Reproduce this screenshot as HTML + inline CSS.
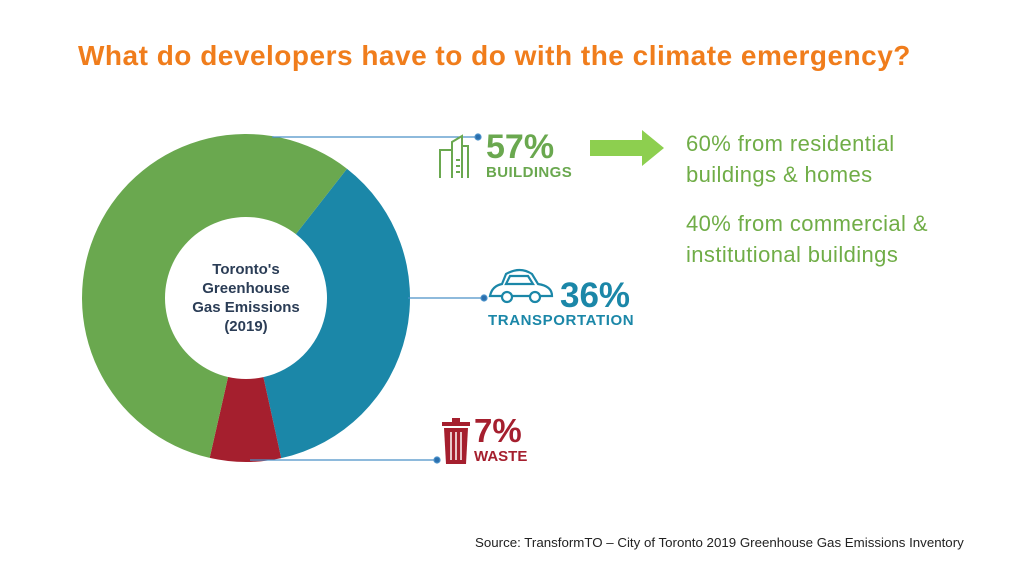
<!DOCTYPE html>
<html><head><meta charset="utf-8"><style>
body{margin:0;width:1024px;height:576px;background:#fff;overflow:hidden;font-family:"Liberation Sans",sans-serif;position:relative}
.t{position:absolute;white-space:nowrap}
</style></head><body>
<div class="t" style="left:78px;top:40px;font-size:28px;font-weight:bold;color:#f07d1c;letter-spacing:0.5px">What do developers have to do with the climate emergency?</div>
<svg width="1024" height="576" style="position:absolute;left:0;top:0">
<g id="donut"></g>
<g stroke="#4a90c8" stroke-width="1.2" fill="#2a6fae">
<line x1="272" y1="137" x2="478" y2="137"/><circle cx="478" cy="137" r="3"/>
<line x1="408" y1="298" x2="484" y2="298"/><circle cx="484" cy="298" r="3"/>
<line x1="250" y1="460" x2="437" y2="460"/><circle cx="437" cy="460" r="3"/>
</g>
<g fill="none" stroke="#6aa84f" stroke-width="2"><path d="M440 178 V150 H452 V142 L462 136 V178 M452 150 V178 M462 146 H468 V178 M456 160 H460 M456 166 H460 M456 172 H460"/></g>
<g fill="none" stroke="#1b87a8" stroke-width="2.2"><path d="M490 296 Q492 286 502 284 L506 274 Q520 266 532 274 L538 284 Q552 286 552 296 Z M506 284 L510 276 H528 L533 284 Z"/><circle cx="507" cy="297" r="5" fill="#fff"/><circle cx="535" cy="297" r="5" fill="#fff"/></g>
<g fill="#a51f2e"><rect x="442" y="422" width="28" height="4"/><rect x="452" y="418" width="8" height="4"/><path d="M444 428 H468 L466 464 H446 Z"/><g stroke="#fff" stroke-width="1.5"><line x1="451" y1="432" x2="451" y2="460"/><line x1="456" y1="432" x2="456" y2="460"/><line x1="461" y1="432" x2="461" y2="460"/></g></g>
<polygon points="590,140 642,140 642,130 664,148 642,166 642,156 590,156" fill="#8dcf4f"/>
</svg>
<div class="t" style="left:166px;top:260px;width:160px;text-align:center;font-size:15px;font-weight:bold;color:#2b3d56;line-height:19px">Toronto's<br>Greenhouse<br>Gas Emissions<br>(2019)</div>
<div class="t" style="left:486px;top:128px;font-size:34px;font-weight:bold;color:#6aa84f">57%</div>
<div class="t" style="left:486px;top:164px;font-size:15px;font-weight:bold;color:#6aa84f;letter-spacing:0.4px">BUILDINGS</div>
<div class="t" style="left:560px;top:276px;font-size:35px;font-weight:bold;color:#1b87a8">36%</div>
<div class="t" style="left:488px;top:312px;font-size:15px;font-weight:bold;color:#1b87a8;letter-spacing:0.6px">TRANSPORTATION</div>
<div class="t" style="left:474px;top:412px;font-size:33px;font-weight:bold;color:#a51f2e">7%</div>
<div class="t" style="left:474px;top:448px;font-size:15px;font-weight:bold;color:#a51f2e">WASTE</div>
<div class="t" style="left:686px;top:128px;font-size:22px;color:#70ad47;line-height:31px;letter-spacing:0.4px">60% from residential<br>buildings &amp; homes</div>
<div class="t" style="left:686px;top:208px;font-size:22px;color:#70ad47;line-height:31px;letter-spacing:0.4px">40% from commercial &amp;<br>institutional buildings</div>
<div class="t" style="left:475px;top:535px;font-size:13.3px;color:#222">Source: TransformTO – City of Toronto 2019 Greenhouse Gas Emissions Inventory</div>
<script>
const categories=["Transportation","Waste","Buildings"];
const values=[36,7,57];
const colors=["#1b87a8","#a51f2e","#6aa84f"];
const cx=246,cy=298,R=164,r=81,start=38;
const g=document.getElementById('donut');
const total=values.reduce((a,b)=>a+b,0);
let a0=start;
function pt(rad,deg){const t=deg*Math.PI/180;return [cx+rad*Math.sin(t),cy-rad*Math.cos(t)];}
values.forEach((v,i)=>{
 const a1=a0+v/total*360,large=(a1-a0)>180?1:0;
 const p1=pt(R,a0),p2=pt(R,a1),p3=pt(r,a1),p4=pt(r,a0);
 const p=document.createElementNS('http://www.w3.org/2000/svg','path');
 p.setAttribute('d',`M${p1} A${R} ${R} 0 ${large} 1 ${p2} L${p3} A${r} ${r} 0 ${large} 0 ${p4}Z`);
 p.setAttribute('fill',colors[i]);
 
 
 g.appendChild(p);a0=a1;
});
</script>
</body></html>
